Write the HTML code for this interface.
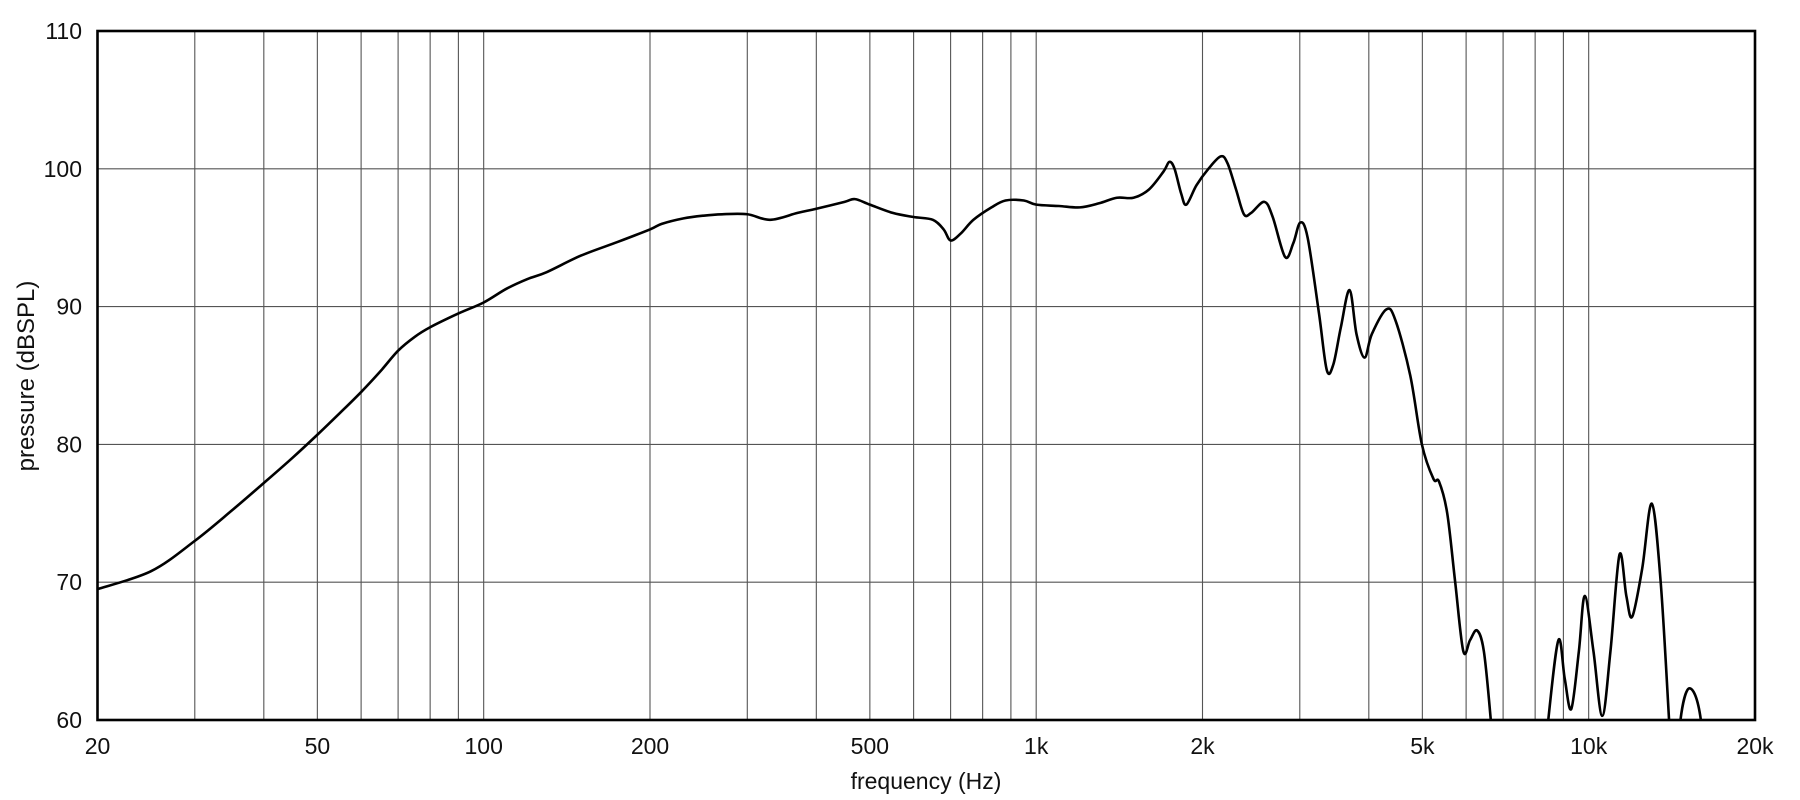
<!DOCTYPE html>
<html><head><meta charset="utf-8"><style>
html,body{margin:0;padding:0;background:#fff;width:1800px;height:800px;overflow:hidden}
svg{display:block}
text{font-family:"Liberation Sans",sans-serif;fill:#111}
</style></head><body>
<svg id="chart" width="1800" height="800" viewBox="0 0 1800 800">
<defs><clipPath id="plotclip"><rect x="97.5" y="31" width="1657.5" height="689"/></clipPath></defs>
<g id="grid"></g>
<g id="ticks"></g>
<path id="curve" fill="none" stroke="#000" stroke-width="2.6" stroke-linejoin="round" clip-path="url(#plotclip)"/>
<rect x="97.5" y="31" width="1657.5" height="689" fill="none" stroke="#000" stroke-width="2.6"/>
<text x="926" y="789" font-size="23" text-anchor="middle">frequency (Hz)</text>
<text transform="translate(34,376) rotate(-90)" font-size="24" text-anchor="middle">pressure (dBSPL)</text>
</svg>
<script>
const freqs = [20,25,30,35,40,45,50,55,60,65,70,75,80,90,100,110,120,130,150,175,200,210,230,250,270,300,330,370,400,450,470,500,550,600,650,680,700,730,770,830,880,950,1000,1100,1200,1300,1400,1500,1600,1700,1742,1780,1830,1870,1950,2050,2158,2220,2300,2377,2450,2588,2680,2822,2920,3006,3100,3250,3357,3450,3560,3692,3800,3930,4050,4304,4470,4754,4990,5236,5360,5546,5733,5930,6100,6280,6460,6650,6900,8100,8450,8816,9050,9300,9600,9840,10200,10580,10950,11370,11700,11990,12500,13010,13500,13980,14200,14450,14660,15220,15960,16500,20000];
const spl = [69.5,70.8,73,75.2,77.2,79,80.7,82.3,83.8,85.3,86.8,87.8,88.5,89.5,90.3,91.3,92,92.5,93.7,94.7,95.6,96,96.4,96.6,96.7,96.7,96.3,96.8,97.1,97.6,97.8,97.4,96.8,96.5,96.3,95.6,94.8,95.3,96.3,97.2,97.7,97.7,97.4,97.3,97.2,97.5,97.9,97.9,98.5,99.8,100.5,100,98.2,97.4,98.8,100,100.9,100.4,98.5,96.7,96.8,97.6,96.5,93.6,94.6,96.1,95,89.5,85.4,85.8,88.5,91.2,88,86.3,88,89.8,89,85,80,77.5,77.3,75,70,65,65.8,66.5,65,60,52,52,60,65.8,63,60.8,65,69,65,60.3,65,72,69,67.5,71,75.7,70,60,55,55,60,62.3,60,52,50];
const yTicks = [60,70,80,90,100,110];
const xTickVals = [20,50,100,200,500,1000,2000,5000,10000,20000];
const xTickLabels = ["20","50","100","200","500","1k","2k","5k","10k","20k"];
const gridFreqs = [30,40,50,60,70,80,90,100,200,300,400,500,600,700,800,900,1000,2000,3000,4000,5000,6000,7000,8000,9000,10000];

const L=97.5,R=1755,T=31,B=720;
const xs=f=>L+(Math.log10(f)-Math.log10(20))/3*(R-L);
const ys=v=>B-(v-60)/50*(B-T);
const NS='http://www.w3.org/2000/svg';
const grid=document.getElementById('grid'), ticks=document.getElementById('ticks');
function mk(tag,attrs,parent){const e=document.createElementNS(NS,tag);for(const k in attrs)e.setAttribute(k,attrs[k]);parent.appendChild(e);return e;}
gridFreqs.forEach(f=>{
  const l=mk('line',{x1:xs(f),x2:xs(f),y1:T,y2:B,stroke:'#555','stroke-width':1.1},grid);
  
  
});
yTicks.forEach(v=>{
  const l=mk('line',{x1:L,x2:R,y1:ys(v),y2:ys(v),stroke:'#555','stroke-width':1.1},grid);
  
  
  const t=mk('text',{x:82,y:ys(v)+8,'font-size':23,'text-anchor':'end'},ticks);
  t.textContent=String(v);
  
  
});
xTickVals.forEach((f,i)=>{
  const t=mk('text',{x:xs(f),y:754,'font-size':23,'text-anchor':'middle'},ticks);
  t.textContent=xTickLabels[i];
  
  
});
const pts=freqs.map((f,i)=>[xs(f),ys(spl[i])]);
let d='M'+pts[0][0].toFixed(2)+','+pts[0][1].toFixed(2);
for(let i=0;i<pts.length-1;i++){
  const p0=pts[Math.max(0,i-1)],p1=pts[i],p2=pts[i+1],p3=pts[Math.min(pts.length-1,i+2)];
  const k=1/6;
  const c1=[p1[0]+(p2[0]-p0[0])*k,p1[1]+(p2[1]-p0[1])*k];
  const c2=[p2[0]-(p3[0]-p1[0])*k,p2[1]-(p3[1]-p1[1])*k];
  d+=' C'+c1[0].toFixed(2)+','+c1[1].toFixed(2)+' '+c2[0].toFixed(2)+','+c2[1].toFixed(2)+' '+p2[0].toFixed(2)+','+p2[1].toFixed(2);
}
document.getElementById('curve').setAttribute('d',d);
</script>
</body></html>
